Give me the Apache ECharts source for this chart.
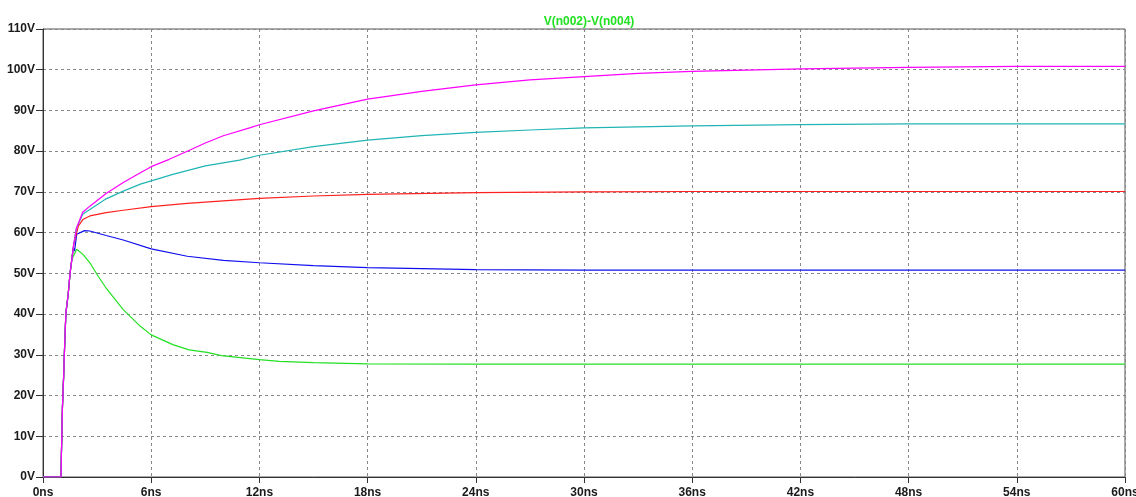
<!DOCTYPE html>
<html>
<head>
<meta charset="utf-8">
<script src="https://cdn.jsdelivr.net/npm/echarts@6/dist/echarts.min.js"></script>
<style>
  html, body { margin: 0; padding: 0; background: #fff; }
  #chart { width: 1136px; height: 497px; }
</style>
</head>
<body>
<div id="chart"></div>
<script>
// Transient of V(n002)-V(n004), one trace per .step run. Points are [time ns, volts].
const title = 'V(n002)-V(n004)';
const xTickLabels = ['0ns', '6ns', '12ns', '18ns', '24ns', '30ns', '36ns', '42ns', '48ns', '54ns', '60ns'];
const yTickLabels = ['0V', '10V', '20V', '30V', '40V', '50V', '60V', '70V', '80V', '90V', '100V', '110V'];

// shared leading edge
const rise = [[0, 0], [1.0, 0], [1.02, 5.4], [1.07, 5.4], [1.08, 17.4], [1.15, 25.3], [1.2, 32.3], [1.27, 40.3], [1.4, 45], [1.5, 50], [1.6, 53.5]];

const stepGreen = [[1.7, 53.2], [1.87, 55.9], [2.23, 54.6], [2.6, 52.6], [3.06, 49.3], [3.5, 46.4], [4.45, 41.1], [5.4, 37], [6, 34.9], [7.2, 32.5], [8.1, 31.2], [9.1, 30.6], [9.9, 29.8], [12, 28.8], [13.1, 28.4], [15, 28.1], [18, 27.8], [24, 27.7], [30, 27.7], [36, 27.7], [42, 27.7], [48, 27.7], [54, 27.7], [60, 27.7]];
const stepBlue = [[1.68, 56.3], [1.75, 55.5], [1.87, 59.6], [2.3, 60.5], [2.6, 60.4], [3.5, 59.3], [4.45, 58.2], [6, 56], [8, 54.2], [10, 53.2], [12, 52.6], [15, 51.9], [18, 51.4], [24, 50.9], [30, 50.8], [36, 50.8], [42, 50.8], [48, 50.8], [54, 50.8], [60, 50.8]];
const stepRed = [[1.7, 57], [1.96, 61.6], [2.23, 63.3], [2.6, 64.1], [3.5, 64.9], [4.45, 65.5], [6, 66.4], [8, 67.2], [10, 67.8], [12, 68.4], [15, 69], [18, 69.4], [24, 69.8], [30, 70], [36, 70.1], [42, 70.1], [48, 70.1], [54, 70.1], [60, 70.1]];
const stepCyan = [[1.7, 57], [1.85, 61], [2.2, 64.5], [2.6, 65.7], [3.5, 68.3], [4.45, 70.2], [5.4, 71.9], [6, 72.7], [7.2, 74.3], [9, 76.4], [10.9, 77.8], [12, 79], [15, 81.1], [18, 82.7], [21, 83.8], [24, 84.6], [27, 85.2], [30, 85.7], [36, 86.2], [42, 86.5], [48, 86.7], [54, 86.7], [60, 86.7]];
const stepMagenta = [[1.7, 57], [1.85, 61], [2.2, 65], [2.6, 66.5], [3.5, 69.6], [4.45, 72.3], [5.4, 74.7], [6, 76.2], [7, 78], [8, 80], [9, 82], [10, 83.8], [11.5, 85.8], [12, 86.5], [15, 89.9], [18, 92.8], [21, 94.7], [24, 96.3], [27, 97.5], [30, 98.3], [33, 99.1], [36, 99.6], [42, 100.2], [48, 100.6], [54, 100.8], [60, 100.8]];

const traces = [
  { name: 'step 5', color: '#22e022', pts: stepGreen },
  { name: 'step 4', color: '#1010ee', pts: stepBlue },
  { name: 'step 3', color: '#ff2020', pts: stepRed },
  { name: 'step 2', color: '#20b4b4', pts: stepCyan },
  { name: 'step 1', color: '#ff00ff', pts: stepMagenta }
];

const chart = echarts.init(document.getElementById('chart'), null, { renderer: 'canvas' });

const uiFont = '"Liberation Sans", Arial, sans-serif';
const labelFont = {
  color: '#1a1a1a',
  fontFamily: uiFont,
  fontWeight: 'bold',
  fontSize: 12
};

chart.setOption({
  animation: false,
  backgroundColor: '#ffffff',
  title: {
    text: title,
    left: 584,
    textAlign: 'center',
    top: 11,
    textStyle: { color: '#22e022', fontFamily: uiFont, fontSize: 12, fontWeight: 'bold' }
  },
  grid: {
    left: 43, right: 11, top: 29, bottom: 20,
    outerBoundsMode: 'none',
    containLabel: false,
    show: true, borderColor: '#555', borderWidth: 1
  },
  xAxis: {
    type: 'value', min: 0, max: 60, interval: 6,
    axisLine: { show: true, lineStyle: { color: '#333', width: 1 } },
    axisTick: { show: true, length: 6, lineStyle: { color: '#333' } },
    axisLabel: Object.assign({ margin: 10, formatter: (v) => xTickLabels[Math.round(v / 6)] }, labelFont),
    splitLine: { show: true, lineStyle: { color: '#888', type: [3, 3], width: 1 } }
  },
  yAxis: {
    type: 'value', min: 0, max: 110, interval: 10,
    axisLine: { show: true, lineStyle: { color: '#333', width: 1 } },
    axisTick: { show: true, length: 7, lineStyle: { color: '#333' } },
    axisLabel: Object.assign({ margin: 8, formatter: (v) => yTickLabels[Math.round(v / 10)] }, labelFont),
    splitLine: { show: true, lineStyle: { color: '#888', type: [3, 3], width: 1 } }
  },
  series: traces.map(t => ({
    name: t.name,
    type: 'line',
    data: rise.concat(t.pts),
    showSymbol: false,
    symbol: 'none',
    smooth: false,
    lineStyle: { color: t.color, width: 1.2 },
    itemStyle: { color: t.color }
  }))
});
</script>
</body>
</html>
